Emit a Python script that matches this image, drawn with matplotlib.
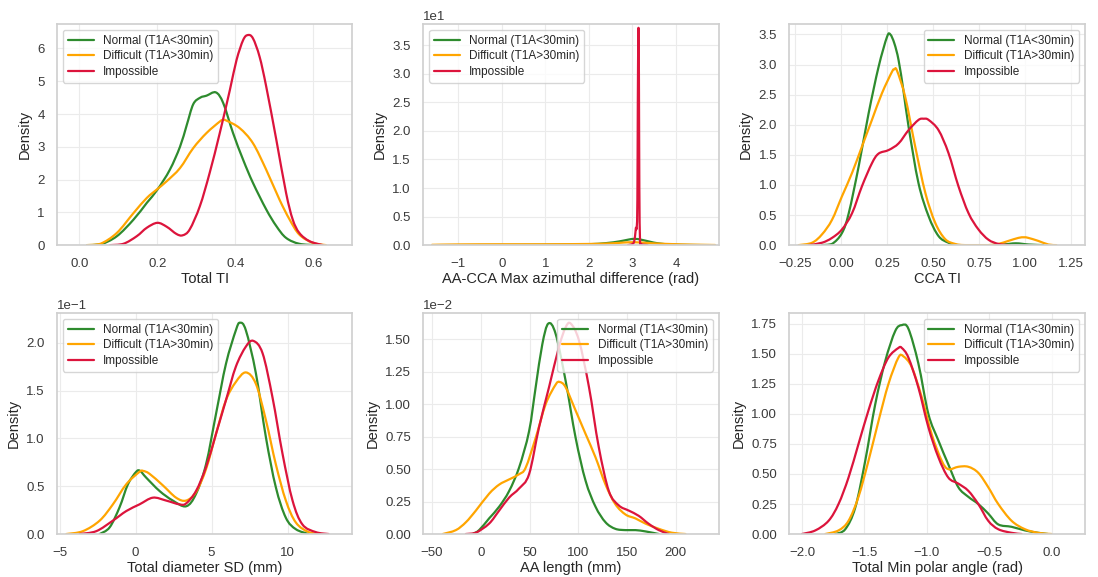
import numpy as np
import matplotlib
matplotlib.use("Agg")
import matplotlib.pyplot as plt
from matplotlib.path import Path
from matplotlib.patches import PathPatch
from matplotlib.lines import Line2D
import seaborn as sns

sns.set_theme(style="whitegrid")
plt.rcParams["font.family"] = ["Liberation Sans", "DejaVu Sans"]

labels = ["Normal (T1A<30min)", "Difficult (T1A>30min)", "Impossible"]
colors = ["#2e8b2e", "#ffa500", "#dc143c"]

# ---- Panel 1: Total TI ----
p1_normal_x = [0.02, 0.054, 0.096, 0.139, 0.173, 0.2, 0.232, 0.258, 0.275, 0.292, 0.31, 0.326, 0.35, 0.369, 0.394, 0.42, 0.445, 0.479, 0.505, 0.53, 0.564, 0.607]
p1_normal_y = [0.0, 0.02, 0.27, 0.78, 1.29, 1.69, 2.3, 3.0, 3.65, 4.3, 4.5, 4.56, 4.66, 4.33, 3.42, 2.6, 1.9, 1.09, 0.58, 0.22, 0.04, 0.0]
p1_diff_x = [0.02, 0.054, 0.096, 0.139, 0.173, 0.2, 0.224, 0.258, 0.292, 0.326, 0.36, 0.368, 0.377, 0.411, 0.445, 0.479, 0.513, 0.539, 0.564, 0.598, 0.632]
p1_diff_y = [0.0, 0.04, 0.37, 0.98, 1.44, 1.71, 1.95, 2.35, 2.96, 3.42, 3.77, 3.82, 3.8, 3.57, 3.11, 2.3, 1.39, 0.78, 0.32, 0.07, 0.0]
p1_imp_x = [0.079, 0.113, 0.147, 0.173, 0.2, 0.224, 0.249, 0.265, 0.283, 0.309, 0.334, 0.36, 0.386, 0.403, 0.42, 0.432, 0.445, 0.462, 0.479, 0.505, 0.53, 0.547, 0.564, 0.59, 0.624]
p1_imp_y = [0.0, 0.04, 0.27, 0.53, 0.68, 0.56, 0.34, 0.30, 0.48, 1.19, 2.2, 3.42, 4.74, 5.65, 6.26, 6.41, 6.31, 5.75, 4.84, 3.21, 1.59, 0.78, 0.37, 0.12, 0.0]

# ---- Panel 2: AA-CCA Max azimuthal difference ----
p2_normal_x = [-1.5, 0.0, 1.0, 1.5, 2.0, 2.4, 2.7, 2.9, 3.05, 3.2, 3.4, 3.6, 3.9, 4.3, 4.8]
p2_normal_y = [0.0, 0.02, 0.05, 0.08, 0.15, 0.35, 0.65, 0.95, 1.1, 0.95, 0.6, 0.3, 0.1, 0.02, 0.0]
p2_diff_x = [-1.6, -1.0, 0.0, 1.0, 2.0, 2.5, 2.8, 3.0, 3.2, 3.5, 3.9, 4.4, 4.9]
p2_diff_y = [0.05, 0.12, 0.15, 0.15, 0.2, 0.3, 0.45, 0.5, 0.45, 0.3, 0.18, 0.08, 0.02]
p2_imp_x = [2.9, 3.02, 3.06, 3.08, 3.10, 3.115, 3.125, 3.135, 3.142, 3.15, 3.16, 3.175, 3.2, 3.35]
p2_imp_y = [0.0, 0.3, 1.5, 3.0, 3.1, 8.0, 25.0, 36.0, 37.5, 30.0, 10.0, 1.0, 0.2, 0.0]

# ---- Panel 3: CCA TI ----
p3_normal_x = [-0.103, -0.049, 0.005, 0.042, 0.096, 0.15, 0.204, 0.25, 0.268, 0.29, 0.313, 0.34, 0.367, 0.421, 0.476, 0.53, 0.584, 0.638, 0.8, 0.88, 0.95, 1.02, 1.1]
p3_normal_y = [0.0, 0.02, 0.2, 0.53, 1.31, 2.19, 2.96, 3.46, 3.5, 3.35, 3.07, 2.55, 1.97, 1.03, 0.48, 0.15, 0.04, 0.0, 0.0, 0.01, 0.03, 0.01, 0.0]
p3_diff_x = [-0.23, -0.157, -0.103, -0.049, 0.005, 0.06, 0.114, 0.168, 0.222, 0.277, 0.29, 0.304, 0.349, 0.403, 0.458, 0.512, 0.566, 0.62, 0.674, 0.8, 0.855, 0.91, 0.964, 0.995, 1.018, 1.072, 1.127, 1.17]
p3_diff_y = [0.0, 0.04, 0.18, 0.42, 0.81, 1.2, 1.64, 2.08, 2.52, 2.88, 2.92, 2.9, 2.46, 1.64, 0.87, 0.37, 0.1, 0.02, 0.0, 0.0, 0.02, 0.07, 0.12, 0.13, 0.12, 0.07, 0.01, 0.0]
p3_imp_x = [-0.175, -0.103, -0.049, 0.005, 0.06, 0.114, 0.168, 0.204, 0.259, 0.313, 0.367, 0.421, 0.45, 0.476, 0.53, 0.584, 0.638, 0.693, 0.747, 0.801, 0.855, 0.91]
p3_imp_y = [0.0, 0.04, 0.12, 0.26, 0.53, 0.98, 1.36, 1.52, 1.58, 1.69, 1.91, 2.08, 2.1, 2.08, 1.91, 1.53, 0.98, 0.53, 0.26, 0.09, 0.02, 0.0]

# ---- Panel 4: Total diameter SD ----
p4_normal_x = [-2.36, -1.7, -1.05, -0.5, 0.04, 0.3, 0.7, 1.58, 2.45, 3.33, 3.98, 4.64, 5.3, 5.95, 6.6, 6.87, 7.26, 7.92, 8.58, 9.23, 9.89, 10.55, 11.4]
p4_normal_y = [0.0, 0.007, 0.028, 0.052, 0.065, 0.066, 0.059, 0.045, 0.035, 0.029, 0.042, 0.073, 0.126, 0.178, 0.213, 0.221, 0.213, 0.168, 0.101, 0.049, 0.017, 0.005, 0.0]
p4_diff_x = [-4.55, -3.46, -2.36, -1.49, -0.61, 0.26, 0.5, 0.92, 1.79, 2.67, 3.33, 3.98, 4.64, 5.3, 5.95, 6.6, 7.26, 7.92, 8.58, 9.23, 9.89, 10.55, 11.4, 12.3]
p4_diff_y = [0.0, 0.003, 0.014, 0.031, 0.052, 0.065, 0.066, 0.063, 0.051, 0.038, 0.035, 0.044, 0.068, 0.105, 0.14, 0.159, 0.169, 0.157, 0.119, 0.073, 0.035, 0.012, 0.002, 0.0]
p4_imp_x = [-3.68, -2.58, -1.49, -0.61, 0.26, 1.14, 2.01, 2.89, 3.33, 3.98, 4.64, 5.3, 5.95, 6.6, 7.26, 7.75, 8.36, 9.01, 9.67, 10.33, 10.98, 11.86, 12.7]
p4_imp_y = [0.0, 0.003, 0.014, 0.024, 0.031, 0.038, 0.035, 0.031, 0.032, 0.045, 0.07, 0.105, 0.14, 0.175, 0.196, 0.202, 0.189, 0.143, 0.084, 0.035, 0.01, 0.002, 0.0]

# ---- Panel 5: AA length ----
p5_normal_x = [-8.5, -1.7, 8.5, 18.8, 29, 39.2, 49.5, 56.3, 63.1, 69.3, 76.8, 87, 97.3, 107.5, 117.7, 128, 138, 148.5, 158.7, 169, 182.6]
p5_normal_y = [0.0, 0.0003, 0.0012, 0.0021, 0.0033, 0.0051, 0.0079, 0.0113, 0.0146, 0.0162, 0.0154, 0.0118, 0.0074, 0.0041, 0.0021, 0.0009, 0.0004, 0.0003, 0.0003, 0.0002, 0.0]
p5_diff_x = [-39, -25.6, -15.4, -5.1, 8.5, 18.8, 29, 39.2, 46, 56.3, 66.6, 76.8, 80.9, 87, 97.3, 107.5, 117.7, 128, 138, 148.5, 158.7, 169, 182.6, 196, 210]
p5_diff_y = [0.0, 0.0003, 0.0009, 0.0018, 0.0031, 0.0038, 0.0042, 0.0046, 0.0051, 0.0074, 0.01, 0.0115, 0.0117, 0.0113, 0.0095, 0.0077, 0.0059, 0.0038, 0.0023, 0.0015, 0.0012, 0.0008, 0.0004, 0.0001, 0.0]
p5_imp_x = [-15.4, -5.1, 8.5, 18.8, 29, 39.2, 49.5, 59.7, 70, 80.2, 87, 92.2, 100.7, 111, 121, 131.4, 141.6, 151.9, 162, 172, 182.6, 192.8]
p5_imp_y = [0.0, 0.0001, 0.0008, 0.0018, 0.0028, 0.0035, 0.0046, 0.0082, 0.0113, 0.0144, 0.0159, 0.0162, 0.0149, 0.0113, 0.0067, 0.0033, 0.0022, 0.0018, 0.0014, 0.0008, 0.0003, 0.0]

# ---- Panel 6: Total Min polar angle ----
p6_normal_x = [-1.733, -1.653, -1.573, -1.493, -1.413, -1.333, -1.253, -1.2, -1.147, -1.067, -0.987, -0.907, -0.827, -0.747, -0.667, -0.587, -0.507, -0.427, -0.32, -0.213, -0.107, -0.03]
p6_normal_y = [0.0, 0.04, 0.22, 0.61, 1.08, 1.44, 1.69, 1.74, 1.71, 1.42, 1.0, 0.78, 0.58, 0.39, 0.31, 0.25, 0.17, 0.08, 0.06, 0.03, 0.01, 0.0]
p6_diff_x = [-1.813, -1.707, -1.627, -1.547, -1.467, -1.387, -1.307, -1.227, -1.187, -1.12, -1.04, -0.96, -0.88, -0.827, -0.747, -0.667, -0.587, -0.507, -0.427, -0.32, -0.213, -0.107, 0.0]
p6_diff_y = [0.0, 0.03, 0.11, 0.31, 0.61, 0.94, 1.25, 1.47, 1.48, 1.39, 1.14, 0.83, 0.61, 0.54, 0.56, 0.56, 0.51, 0.39, 0.25, 0.11, 0.04, 0.01, 0.0]
p6_imp_x = [-2.0, -1.893, -1.787, -1.707, -1.627, -1.547, -1.467, -1.387, -1.307, -1.227, -1.2, -1.147, -1.067, -0.987, -0.907, -0.827, -0.747, -0.667, -0.587, -0.507, -0.427, -0.32, -0.24]
p6_imp_y = [0.0, 0.03, 0.11, 0.25, 0.47, 0.75, 1.03, 1.28, 1.47, 1.55, 1.55, 1.47, 1.22, 0.89, 0.64, 0.47, 0.42, 0.36, 0.25, 0.11, 0.04, 0.01, 0.0]

panels = [
    ("Total TI", [(p1_normal_x, p1_normal_y), (p1_diff_x, p1_diff_y), (p1_imp_x, p1_imp_y)],
     (-0.057, 0.70), (0, 6.74), [0.0, 0.2, 0.4, 0.6], "upper left"),
    ("AA-CCA Max azimuthal difference (rad)", [(p2_normal_x, p2_normal_y), (p2_diff_x, p2_diff_y), (p2_imp_x, p2_imp_y)],
     (-1.8, 4.98), (0, 38.7), [-1, 0, 1, 2, 3, 4], "upper left"),
    ("CCA TI", [(p3_normal_x, p3_normal_y), (p3_diff_x, p3_diff_y), (p3_imp_x, p3_imp_y)],
     (-0.28, 1.325), (0, 3.67), [-0.25, 0.0, 0.25, 0.5, 0.75, 1.0, 1.25], "upper right"),
    ("Total diameter SD (mm)", [(p4_normal_x, p4_normal_y), (p4_diff_x, p4_diff_y), (p4_imp_x, p4_imp_y)],
     (-5.16, 14.27), (0, 0.231), [-5, 0, 5, 10], "upper left"),
    ("AA length (mm)", [(p5_normal_x, p5_normal_y), (p5_diff_x, p5_diff_y), (p5_imp_x, p5_imp_y)],
     (-59, 244), (0, 0.0170), [-50, 0, 50, 100, 150, 200], "upper right"),
    ("Total Min polar angle (rad)", [(p6_normal_x, p6_normal_y), (p6_diff_x, p6_diff_y), (p6_imp_x, p6_imp_y)],
     (-2.1, 0.267), (0, 1.84), [-2.0, -1.5, -1.0, -0.5, 0.0], "upper right"),
]


def smooth_path(xs, ys):
    """Cubic Bezier path through the read points (Catmull-Rom tangents)."""
    p = np.column_stack([xs, ys]).astype(float)
    n = len(p)
    verts = [p[0]]
    codes = [Path.MOVETO]
    for i in range(n - 1):
        p0 = p[i - 1] if i > 0 else p[i]
        p1 = p[i]
        p2 = p[i + 1]
        p3 = p[i + 2] if i + 2 < n else p[i + 1]
        c1 = p1 + (p2 - p0) / 6.0
        c2 = p2 - (p3 - p1) / 6.0
        lo = min(p1[1], p2[1])
        if lo <= 0:
            c1[1] = max(c1[1], 0.0)
            c2[1] = max(c2[1], 0.0)
        verts += [c1, c2, p2]
        codes += [Path.CURVE4] * 3
    return Path(verts, codes)


fig, axes = plt.subplots(2, 3, figsize=(10.98, 5.77), dpi=100)
fig.subplots_adjust(left=0.052, right=0.988, bottom=0.0745, top=0.958, wspace=0.24, hspace=0.308)

for ax, (xlabel, series, xlim, ylim, xticks, loc) in zip(axes.flat, panels):
    handles = []
    for (xs, ys), lab, col in zip(series, labels, colors):
        ax.add_patch(PathPatch(smooth_path(xs, ys), facecolor="none", edgecolor=col,
                               lw=1.6, capstyle="round", joinstyle="round"))
        handles.append(Line2D([], [], color=col, lw=1.6, label=lab))
    ax.set_xlim(*xlim)
    ax.set_ylim(*ylim)
    ax.set_xticks(xticks)
    ax.set_xlabel(xlabel, fontsize=10.5, labelpad=2)
    ax.set_ylabel("Density", fontsize=10.5, labelpad=4)
    ax.tick_params(labelsize=9.5, pad=3, colors="#3a3a3a")
    ax.ticklabel_format(axis="y", style="sci", scilimits=(0, 0))
    ax.yaxis.get_offset_text().set_fontsize(9.5)
    ax.grid(True, color="#ebebeb", lw=0.8)
    for sp in ax.spines.values():
        sp.set_color("#d0d0d0")
    ax.legend(handles=handles, loc=loc, fontsize=8.5, frameon=True, handlelength=2.2,
              borderpad=0.4, labelspacing=0.3)

fig.savefig("out.png", dpi=100)
